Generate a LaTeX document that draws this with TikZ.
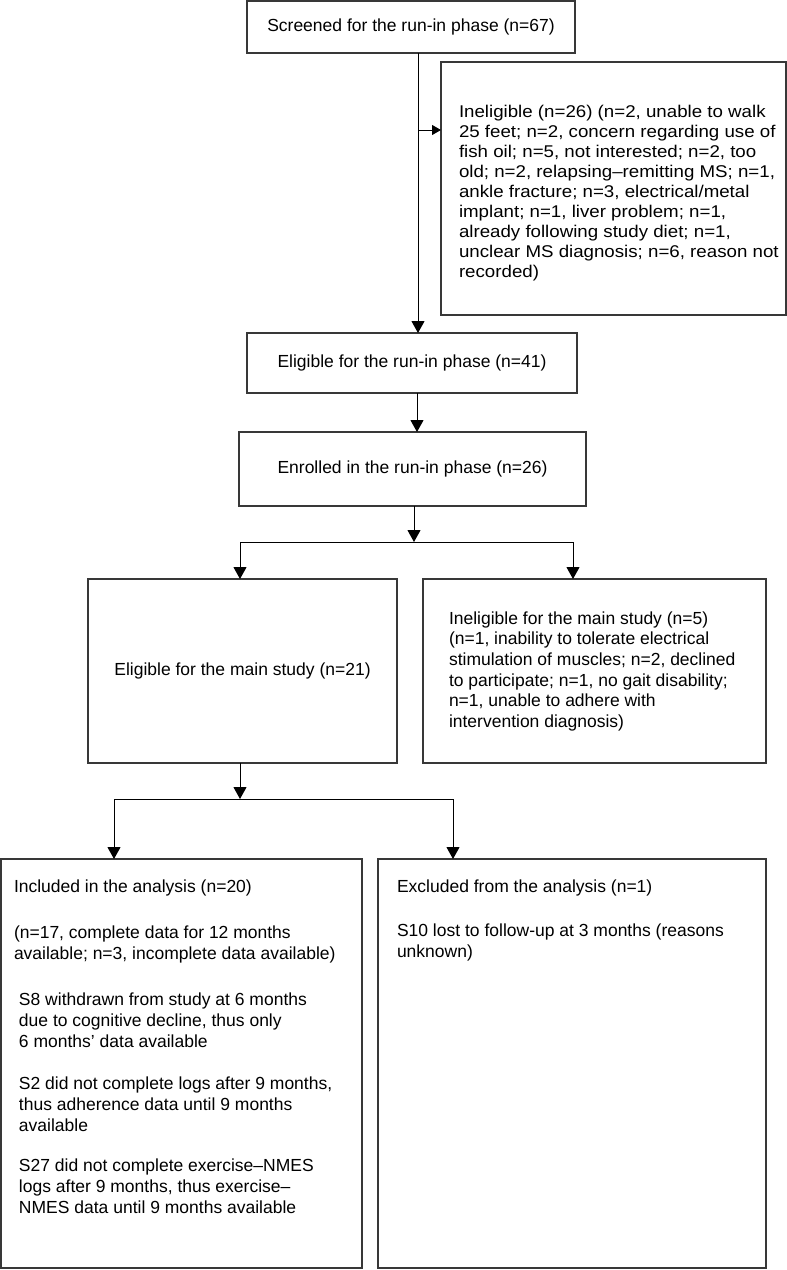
\documentclass[tikz,border=0pt]{standalone}
\usepackage{fontspec}
\setmainfont{Liberation Sans}
\newfontfamily\widesans[FakeStretch=1.1]{Liberation Sans}
\usetikzlibrary{arrows.meta}
\begin{document}
\begin{tikzpicture}[x=1pt,y=-1pt,
  box/.style={draw=black!78, line width=1.2pt, inner sep=0pt, outer sep=0pt, rectangle, font=\fontsize{17.5}{21}\selectfont},
  txt/.style={inner sep=0pt, outer sep=0pt, align=left, anchor=north west, font=\fontsize{17.5}{21}\selectfont},
  arr/.style={draw=black, line width=1pt, -{Triangle[width=13pt,length=12pt]}},
  arrsmall/.style={draw=black, line width=1pt, -{Triangle[width=10pt,length=9pt]}},
  ln/.style={draw=black, line width=1pt}]
\useasboundingbox (0,0) rectangle (787,1270);
% boxes
\node[box, minimum width=328pt, minimum height=52pt] (b1) at (411,27) {Screened for the run-in phase (n=67)};
\node[box, minimum width=345pt, minimum height=253pt] (i1) at (613.5,188.5) {};
\node[box, minimum width=330pt, minimum height=60pt] (b2) at (412,363) {Eligible for the run-in phase (n=41)};
\node[box, minimum width=347pt, minimum height=74pt] (b3) at (412.5,469) {Enrolled in the run-in phase (n=26)};
\node[box, minimum width=309pt, minimum height=184pt] (b4) at (242.5,671) {Eligible for the main study (n=21)};
\node[box, minimum width=343pt, minimum height=184pt] (b5) at (594.5,671) {};
\node[box, minimum width=361pt, minimum height=409pt] (b6) at (181.5,1063.5) {};
\node[box, minimum width=388pt, minimum height=409pt] (b7) at (572,1063.5) {};
% texts
\node[txt, font=\widesans\fontsize{17}{20}\selectfont] (ti1) at (459,104) {\rule{0pt}{13pt}Ineligible (n=26) (n=2, unable to walk\\25 feet; n=2, concern regarding use of\\fish oil; n=5, not interested; n=2, too\\old; n=2, relapsing–remitting MS; n=1,\\ankle fracture; n=3, electrical/metal\\implant; n=1, liver problem; n=1,\\already following study diet; n=1,\\unclear MS diagnosis; n=6, reason not\\recorded)};
\node[txt, font=\fontsize{17.5}{20.7}\selectfont] (tb5) at (449,611) {\rule{0pt}{13pt}Ineligible for the main study (n=5)\\(n=1, inability to tolerate electrical\\stimulation of muscles; n=2, declined\\to participate; n=1, no gait disability;\\n=1, unable to adhere with\\intervention diagnosis)};
\node[txt] (tb6a) at (14,879) {\rule{0pt}{13pt}Included in the analysis (n=20)};
\node[txt] (tb6b) at (14,925) {\rule{0pt}{13pt}(n=17, complete data for 12 months\\available; n=3, incomplete data available)};
\node[txt] (tb6c) at (19,992) {\rule{0pt}{13pt}S8 withdrawn from study at 6 months\\due to cognitive decline, thus only\\6 months’ data available};
\node[txt] (tb6d) at (19,1076) {\rule{0pt}{13pt}S2 did not complete logs after 9 months,\\thus adherence data until 9 months\\available};
\node[txt] (tb6e) at (19,1158) {\rule{0pt}{13pt}S27 did not complete exercise–NMES\\logs after 9 months, thus exercise–\\NMES data until 9 months available};
\node[txt] (tb7a) at (397,879) {\rule{0pt}{13pt}Excluded from the analysis (n=1)};
\node[txt] (tb7b) at (397,923) {\rule{0pt}{13pt}S10 lost to follow-up at 3 months (reasons\\unknown)};
% connector coordinates
\coordinate (jA) at (418,130);
\coordinate (xB) at (417,0);
\coordinate (jC) at (414,542);
\coordinate (hL) at (240,542);
\coordinate (hR) at (573,542);
\coordinate (jD) at (240,799);
\coordinate (hL2) at (114,799);
\coordinate (hR2) at (453,799);
% connectors
\draw[arr] (b1.south -| jA) -- (b2.north -| jA);
\draw[arrsmall] (jA) -- (jA -| i1.west);
\draw[arr] (b2.south -| xB) -- (b3.north -| xB);
\draw[arr] (b3.south -| jC) -- (jC);
\draw[ln] (hL) -- (hR);
\draw[arr] (hL) -- (hL |- b4.north);
\draw[arr] (hR) -- (hR |- b5.north);
\draw[arr] (b4.south -| jD) -- (jD);
\draw[ln] (hL2) -- (hR2);
\draw[arr] (hL2) -- (hL2 |- b6.north);
\draw[arr] (hR2) -- (hR2 |- b7.north);
\end{tikzpicture}
\end{document}
